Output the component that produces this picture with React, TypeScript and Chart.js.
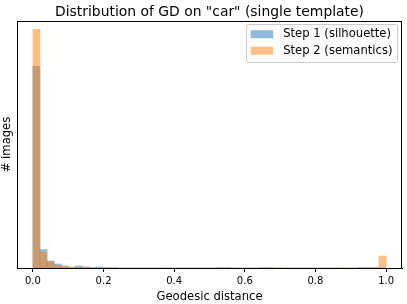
import React, { useEffect, useRef } from "react";
import { Chart, registerables } from "chart.js";

Chart.register(...registerables);

const TITLE = 'Distribution of GD on "car" (single template)';
const X_LABEL = "Geodesic distance";
const Y_LABEL = "# images";
const SERIES_LABELS = ["Step 1 (silhouette)", "Step 2 (semantics)"];

// histogram bin centres (bins of width 0.02 from 0 to 1)
const binCenters = [
  0.01, 0.03, 0.05, 0.07, 0.09, 0.11, 0.13, 0.15, 0.17, 0.19,
  0.21, 0.23, 0.25, 0.27, 0.29, 0.31, 0.33, 0.35, 0.37, 0.39,
  0.41, 0.43, 0.45, 0.47, 0.49, 0.51, 0.53, 0.55, 0.57, 0.59,
  0.61, 0.63, 0.65, 0.67, 0.69, 0.71, 0.73, 0.75, 0.77, 0.79,
  0.81, 0.83, 0.85, 0.87, 0.89, 0.91, 0.93, 0.95, 0.97, 0.99,
];

const step1Counts = [
  404, 37, 14, 8, 4, 1, 4, 2, 1, 2,
  1, 1, 0, 0, 0, 0, 0, 0, 0, 0,
  0, 0, 0, 0, 0, 0, 1, 1, 0, 0,
  0, 0, 1, 1, 0, 0, 0, 0, 0, 0,
  0, 0, 0, 0, 0, 0, 1, 1, 1, 0,
];

const step2Counts = [
  478, 32, 13, 5, 3, 2, 1, 1, 0, 0,
  0, 0, 0, 0, 0, 0, 0, 0, 0, 0,
  0, 0, 0, 0, 0, 0, 0, 0, 0, 0,
  0, 0, 0, 0, 0, 0, 0, 0, 0, 0,
  0, 0, 0, 0, 0, 0, 0, 0, 0, 24,
];

const xTickValues = [0, 0.2, 0.4, 0.6, 0.8, 1.0];
const xTickLabels = ["0.0", "0.2", "0.4", "0.6", "0.8", "1.0"];

const FONT = "'DejaVu Sans', sans-serif";
const BLUE = "rgba(31,119,180,0.5)";
const ORANGE = "rgba(255,127,14,0.5)";

const framePlugin = {
  id: "frameAndLegend",
  afterDatasetsDraw(chart: any) {
    const { ctx, chartArea } = chart;
    ctx.save();
    ctx.strokeStyle = "#000";
    ctx.lineWidth = 1;
    ctx.strokeRect(
      Math.round(chartArea.left) + 0.5,
      Math.round(chartArea.top) + 0.5,
      Math.round(chartArea.right - chartArea.left) - 1,
      Math.round(chartArea.bottom - chartArea.top)
    );
    ctx.restore();
  },
  afterDraw(chart: any) {
    const { ctx, chartArea } = chart;
    ctx.save();
    // title centred over axes
    ctx.fillStyle = "#000";
    ctx.font = `13.9px ${FONT}`;
    ctx.textAlign = "center";
    ctx.textBaseline = "alphabetic";
    ctx.fillText(TITLE, (chartArea.left + chartArea.right) / 2, chartArea.top - 5);

    // legend box (upper right)
    ctx.font = `11.6px ${FONT}`;
    const ds = chart.data.datasets;
    let textW = 0;
    ds.forEach((d: any) => {
      textW = Math.max(textW, ctx.measureText(d.label).width);
    });
    const pad = 4.5;
    const handleW = 22.5;
    const handleH = 8;
    const textPad = 10;
    const rowH = 12.5;
    const rowGap = 4;
    const boxW = pad + handleW + textPad + textW + pad;
    const boxH = pad * 2 + ds.length * rowH + (ds.length - 1) * rowGap;
    const right = chartArea.right - 5;
    const top = chartArea.top + 2.5;
    const left = right - boxW;
    ctx.beginPath();
    const r = 2;
    const bx = Math.round(left) + 0.5;
    const by = Math.round(top) + 0.5;
    const bw = Math.round(boxW);
    const bh = Math.round(boxH);
    ctx.moveTo(bx + r, by);
    ctx.arcTo(bx + bw, by, bx + bw, by + bh, r);
    ctx.arcTo(bx + bw, by + bh, bx, by + bh, r);
    ctx.arcTo(bx, by + bh, bx, by, r);
    ctx.arcTo(bx, by, bx + bw, by, r);
    ctx.closePath();
    ctx.fillStyle = "rgba(255,255,255,0.8)";
    ctx.fill();
    ctx.strokeStyle = "#cccccc";
    ctx.lineWidth = 1;
    ctx.stroke();
    ds.forEach((d: any, i: number) => {
      const cy = top + pad + i * (rowH + rowGap) + rowH / 2;
      ctx.fillStyle = d.backgroundColor;
      ctx.fillRect(left + pad, cy - handleH / 2, handleW, handleH);
      ctx.fillStyle = "#000";
      ctx.textAlign = "left";
      ctx.textBaseline = "middle";
      ctx.fillText(d.label, left + pad + handleW + textPad, cy);
    });
    ctx.restore();
  },
};

export default function App() {
  const ref = useRef<HTMLCanvasElement | null>(null);

  useEffect(() => {
    if (!ref.current) return;
    const yMax = Math.max(...step1Counts, ...step2Counts) * 1.035;
    const chart = new Chart(ref.current, {
      type: "bar",
      data: {
        datasets: [
          {
            label: SERIES_LABELS[0],
            data: binCenters.map((x, i) => ({ x, y: step1Counts[i] })),
            backgroundColor: BLUE,
            borderWidth: 0,
            grouped: false,
            barPercentage: 1,
            categoryPercentage: 1,
            order: 2,
          },
          {
            label: SERIES_LABELS[1],
            data: binCenters.map((x, i) => ({ x, y: step2Counts[i] })),
            backgroundColor: ORANGE,
            borderWidth: 0,
            grouped: false,
            barPercentage: 1,
            categoryPercentage: 1,
            order: 1,
          },
        ] as any,
      },
      options: {
        animation: false,
        responsive: false,
        devicePixelRatio: 1,
        layout: { padding: { top: 21, right: 5, left: 0, bottom: 0 } },
        plugins: {
          legend: { display: false },
          title: { display: false },
          tooltip: { enabled: false },
        },
        scales: {
          x: {
            type: "linear",
            min: -0.045,
            max: 1.045,
            offset: false,
            grid: {
              offset: false,
              drawOnChartArea: false,
              drawTicks: true,
              tickLength: 4,
              color: "#000",
            },
            border: { display: true, color: "#000", width: 1 },
            afterBuildTicks: (scale: any) => {
              scale.ticks = xTickValues.map((v) => ({ value: v }));
            },
            ticks: {
              autoSkip: false,
              maxRotation: 0,
              padding: 3,
              color: "#000",
              font: { family: FONT, size: 10 },
              callback: (v: any) => {
                const i = xTickValues.indexOf(Number(v));
                return i >= 0 ? xTickLabels[i] : "";
              },
            },
            title: {
              display: true,
              text: X_LABEL,
              color: "#000",
              font: { family: FONT, size: 11.6 },
              padding: { top: 1, bottom: 0 },
            },
            afterFit: (scale: any) => {
              scale.height = 36;
            },
          },
          y: {
            type: "linear",
            min: 0,
            max: yMax,
            grid: { display: false },
            border: { display: true, color: "#000", width: 1 },
            ticks: { display: false },
            title: {
              display: true,
              text: Y_LABEL,
              color: "#000",
              font: { family: FONT, size: 11.6 },
              padding: { top: 0, bottom: 2 },
            },
            afterFit: (scale: any) => {
              scale.width = 17;
            },
          },
        },
      } as any,
      plugins: [framePlugin],
    });
    return () => chart.destroy();
  }, []);

  return (
    <div style={{ position: "fixed", left: 0, top: 0, width: 407, height: 304, background: "#fff" }}>
      <canvas ref={ref} width={407} height={304} style={{ width: 407, height: 304, display: "block" }} />
    </div>
  );
}
